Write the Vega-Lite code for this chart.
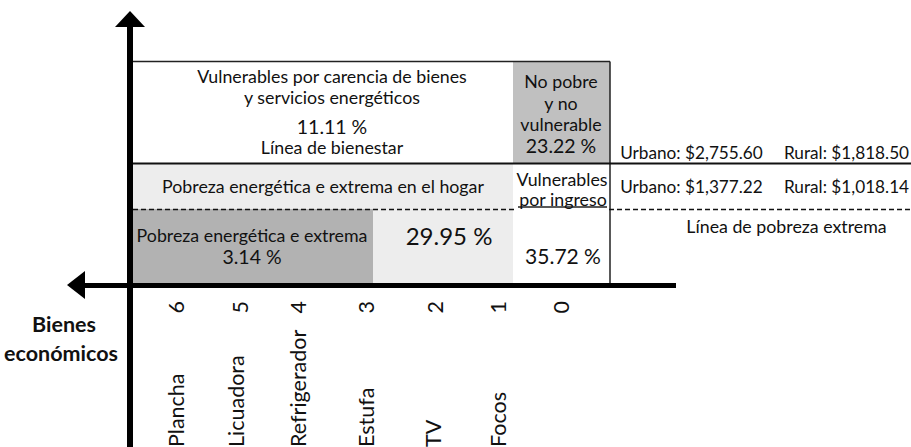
{
  "$schema": "https://vega.github.io/schema/vega-lite/v6.json",
  "width": 911,
  "height": 447,
  "autosize": {"type": "none"},
  "padding": 0,
  "background": "white",
  "config": {"view": {"stroke": null}, "font": "Lato", "text": {"font": "Lato", "color": "#111111"}},
  "datasets": {
    "celdas": [
      {"zona": "No pobre y no vulnerable", "x": 513, "x2": 610, "y": 62, "y2": 163},
      {"zona": "Pobreza energética en el hogar", "x": 133, "x2": 513, "y": 164, "y2": 209},
      {"zona": "Pobreza energética e extrema", "x": 133, "x2": 373, "y": 209, "y2": 283},
      {"zona": "Pobreza extrema por ingreso", "x": 373, "x2": 513, "y": 209, "y2": 283}
    ],
    "lineas": [
      {"tipo": "eje", "x": 130, "x2": 130, "y": 26, "y2": 447},
      {"tipo": "eje_h", "x": 84, "x2": 676, "y": 285.5, "y2": 285.5},
      {"tipo": "marco", "x": 133, "x2": 610, "y": 61.5, "y2": 61.5},
      {"tipo": "marco", "x": 610, "x2": 610, "y": 61.5, "y2": 283},
      {"tipo": "marco", "x": 518, "x2": 607, "y": 207, "y2": 207},
      {"tipo": "bienestar", "x": 133, "x2": 911, "y": 163.5, "y2": 163.5},
      {"tipo": "discontinua", "x": 133, "x2": 517, "y": 209.5, "y2": 209.5},
      {"tipo": "discontinua", "x": 609, "x2": 911, "y": 209.5, "y2": 209.5}
    ],
    "flechas": [
      {"dir": "arriba", "x": 130, "y": 19},
      {"dir": "izquierda", "x": 76, "y": 285}
    ],
    "textos": [
      {"estilo": "normal", "texto": "Vulnerables por carencia de bienes", "x": 332, "y": 77.5},
      {"estilo": "normal", "texto": "y servicios energéticos", "x": 332, "y": 98.5},
      {"estilo": "pct", "texto": "11.11 %", "x": 332, "y": 128},
      {"estilo": "normal", "texto": "Línea de bienestar", "x": 332, "y": 149},
      {"estilo": "normal", "texto": "No pobre", "x": 561, "y": 83},
      {"estilo": "normal", "texto": "y no", "x": 561, "y": 105},
      {"estilo": "normal", "texto": "vulnerable", "x": 561, "y": 125.5},
      {"estilo": "pct", "texto": "23.22 %", "x": 561, "y": 146.5},
      {"estilo": "linea", "texto": "Urbano: $2,755.60", "x": 691.5, "y": 154},
      {"estilo": "linea", "texto": "Rural: $1,818.50", "x": 846.5, "y": 154},
      {"estilo": "normal", "texto": "Pobreza energética e extrema en el hogar", "x": 323, "y": 188},
      {"estilo": "normal", "texto": "Vulnerables", "x": 562, "y": 181},
      {"estilo": "normal", "texto": "por ingreso", "x": 563, "y": 201},
      {"estilo": "linea", "texto": "Urbano: $1,377.22", "x": 691.5, "y": 188},
      {"estilo": "linea", "texto": "Rural: $1,018.14", "x": 846.5, "y": 188},
      {"estilo": "normal", "texto": "Línea de pobreza extrema", "x": 786.5, "y": 228},
      {"estilo": "normal", "texto": "Pobreza energética e extrema", "x": 252, "y": 237},
      {"estilo": "pct", "texto": "3.14 %", "x": 252, "y": 258},
      {"estilo": "pct_grande", "texto": "29.95 %", "x": 449, "y": 238},
      {"estilo": "pct_medio", "texto": "35.72 %", "x": 563, "y": 258},
      {"estilo": "eje", "texto": "Bienes", "x": 64, "y": 326},
      {"estilo": "eje", "texto": "económicos", "x": 61, "y": 355}
    ],
    "bienes": [
      {"tipo": "numero", "texto": "6", "x": 178, "y": 301},
      {"tipo": "numero", "texto": "5", "x": 242, "y": 301},
      {"tipo": "numero", "texto": "4", "x": 300, "y": 301},
      {"tipo": "numero", "texto": "3", "x": 368, "y": 301},
      {"tipo": "numero", "texto": "2", "x": 437, "y": 301},
      {"tipo": "numero", "texto": "1", "x": 500, "y": 301},
      {"tipo": "numero", "texto": "0", "x": 563, "y": 301},
      {"tipo": "nombre", "texto": "Plancha", "x": 178, "y": 447},
      {"tipo": "nombre", "texto": "Licuadora", "x": 238, "y": 447},
      {"tipo": "nombre", "texto": "Refrigerador", "x": 300, "y": 447},
      {"tipo": "nombre", "texto": "Estufa", "x": 368, "y": 447},
      {"tipo": "nombre", "texto": "TV", "x": 435, "y": 447},
      {"tipo": "nombre", "texto": "Focos", "x": 500, "y": 447}
    ]
  },
  "encoding": {
    "x": {"field": "x", "type": "quantitative", "scale": {"domain": [0, 911], "nice": false, "zero": false}, "axis": null},
    "y": {"field": "y", "type": "quantitative", "scale": {"domain": [0, 447], "reverse": true, "nice": false, "zero": false}, "axis": null}
  },
  "layer": [
    {
      "data": {"name": "celdas"},
      "mark": {"type": "rect", "strokeWidth": 0},
      "encoding": {
        "x2": {"field": "x2"},
        "y2": {"field": "y2"},
        "color": {"field": "zona", "type": "nominal", "legend": null,
          "scale": {"domain": ["No pobre y no vulnerable", "Pobreza energética en el hogar", "Pobreza energética e extrema", "Pobreza extrema por ingreso"],
                    "range": ["#c0c0c0", "#ededed", "#b2b2b2", "#ededed"]}}
      }
    },
    {
      "data": {"name": "lineas"},
      "transform": [{"filter": "datum.tipo === 'marco'"}],
      "mark": {"type": "rule", "color": "#222222", "strokeWidth": 1.5},
      "encoding": {"x2": {"field": "x2"}, "y2": {"field": "y2"}}
    },
    {
      "data": {"name": "lineas"},
      "transform": [{"filter": "datum.tipo === 'bienestar'"}],
      "mark": {"type": "rule", "color": "#111111", "strokeWidth": 2},
      "encoding": {"x2": {"field": "x2"}, "y2": {"field": "y2"}}
    },
    {
      "data": {"name": "lineas"},
      "transform": [{"filter": "datum.tipo === 'discontinua'"}],
      "mark": {"type": "rule", "color": "#111111", "strokeWidth": 1.5, "strokeDash": [5, 3]},
      "encoding": {"x2": {"field": "x2"}, "y2": {"field": "y2"}}
    },
    {
      "data": {"name": "lineas"},
      "transform": [{"filter": "datum.tipo === 'eje'"}],
      "mark": {"type": "rule", "color": "#000000", "strokeWidth": 6},
      "encoding": {"x2": {"field": "x2"}, "y2": {"field": "y2"}}
    },
    {
      "data": {"name": "lineas"},
      "transform": [{"filter": "datum.tipo === 'eje_h'"}],
      "mark": {"type": "rule", "color": "#000000", "strokeWidth": 5},
      "encoding": {"x2": {"field": "x2"}, "y2": {"field": "y2"}}
    },
    {
      "data": {"name": "flechas"},
      "transform": [{"filter": "datum.dir === 'arriba'"}],
      "mark": {"type": "point", "filled": true, "opacity": 1, "color": "#000000", "size": 900, "strokeWidth": 0, "shape": "M0,-0.533L1,0.533L-1,0.533Z"}
    },
    {
      "data": {"name": "flechas"},
      "transform": [{"filter": "datum.dir === 'izquierda'"}],
      "mark": {"type": "point", "filled": true, "opacity": 1, "color": "#000000", "size": 900, "strokeWidth": 0, "shape": "M-0.6,0L0.6,-0.933L0.6,0.933Z"}
    },
    {
      "data": {"name": "textos"},
      "transform": [{"filter": "datum.estilo === 'normal'"}],
      "mark": {"type": "text", "fontSize": 17.8, "align": "center", "baseline": "middle"},
      "encoding": {"text": {"field": "texto"}}
    },
    {
      "data": {"name": "textos"},
      "transform": [{"filter": "datum.estilo === 'pct'"}],
      "mark": {"type": "text", "fontSize": 19.5, "align": "center", "baseline": "middle"},
      "encoding": {"text": {"field": "texto"}}
    },
    {
      "data": {"name": "textos"},
      "transform": [{"filter": "datum.estilo === 'pct_medio'"}],
      "mark": {"type": "text", "fontSize": 21, "align": "center", "baseline": "middle"},
      "encoding": {"text": {"field": "texto"}}
    },
    {
      "data": {"name": "textos"},
      "transform": [{"filter": "datum.estilo === 'pct_grande'"}],
      "mark": {"type": "text", "fontSize": 24, "align": "center", "baseline": "middle"},
      "encoding": {"text": {"field": "texto"}}
    },
    {
      "data": {"name": "textos"},
      "transform": [{"filter": "datum.estilo === 'linea'"}],
      "mark": {"type": "text", "fontSize": 17.2, "align": "center", "baseline": "middle"},
      "encoding": {"text": {"field": "texto"}}
    },
    {
      "data": {"name": "textos"},
      "transform": [{"filter": "datum.estilo === 'eje'"}],
      "mark": {"type": "text", "fontSize": 21.5, "fontWeight": "bold", "align": "center", "baseline": "middle"},
      "encoding": {"text": {"field": "texto"}}
    },
    {
      "data": {"name": "bienes"},
      "transform": [{"filter": "datum.tipo === 'numero'"}],
      "mark": {"type": "text", "fontSize": 21.5, "angle": 270, "align": "right", "baseline": "middle"},
      "encoding": {"text": {"field": "texto"}}
    },
    {
      "data": {"name": "bienes"},
      "transform": [{"filter": "datum.tipo === 'nombre'"}],
      "mark": {"type": "text", "fontSize": 21.5, "angle": 270, "align": "left", "baseline": "middle"},
      "encoding": {"text": {"field": "texto"}}
    }
  ]
}
